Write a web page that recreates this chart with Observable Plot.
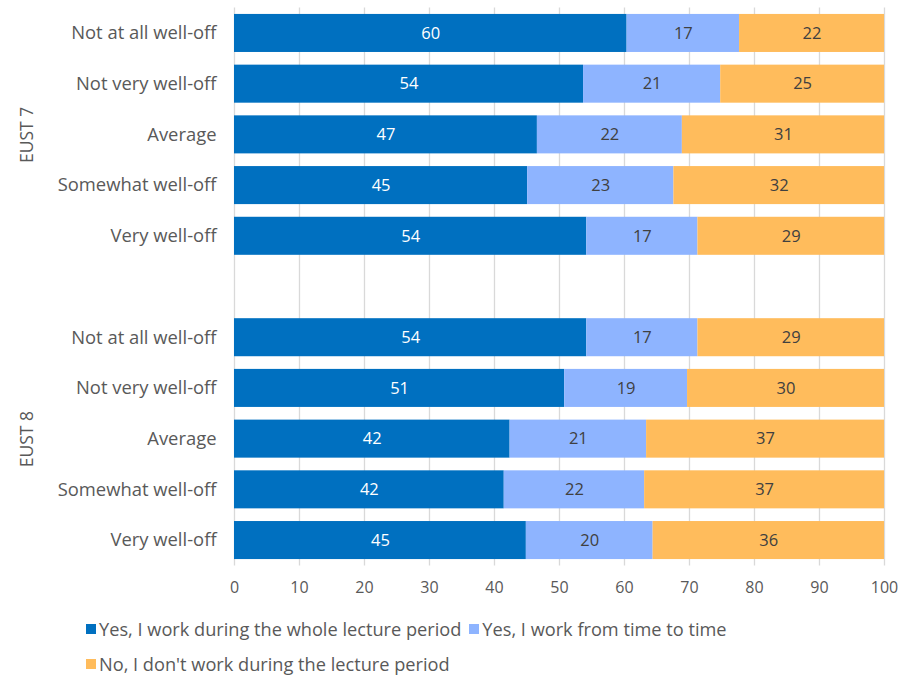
<!DOCTYPE html>
<html>
<head>
<meta charset="utf-8">
<script src="https://cdn.jsdelivr.net/npm/d3@7"></script>
<script src="https://cdn.jsdelivr.net/npm/@observablehq/plot@0.6"></script>
<style>
  body { margin: 0; background: #fff; font-family: "Open Sans", sans-serif; }
  #legend { display: flex; flex-wrap: wrap; width: 760px; padding-left: 86px; margin-top: 18px; row-gap: 13px; column-gap: 8px; font-size: 18.2px; color: #595959; line-height: 22px; }
  .item { display: flex; align-items: center; }
  .sw { width: 10px; height: 10px; margin-right: 3px; }
</style>
</head>
<body>
<div id="chart"></div>
<div id="legend"></div>
<script>
const groups = ["EUST 7", "EUST 8"];
const levels = ["Not at all well-off", "Not very well-off", "Average", "Somewhat well-off", "Very well-off"];
const answers = ["Yes, I work during the whole lecture period", "Yes, I work from time to time", "No, I don't work during the lecture period"];
const colors = ["#0070C0", "#8EB4FF", "#FFBC5C"];
// values per group, per level, in answer order
const eust7Whole = [60.4, 53.7, 46.6, 45.1, 54.2];
const eust7Time  = [17.3, 21.1, 22.3, 22.5, 17.1];
const eust7No    = [22.3, 25.2, 31.1, 32.4, 28.7];
const eust8Whole = [54.2, 50.8, 42.4, 41.5, 44.9];
const eust8Time  = [17.1, 18.9, 21.0, 21.6, 19.5];
const eust8No    = [28.7, 30.3, 36.6, 36.9, 35.6];
const xTicks = [0, 10, 20, 30, 40, 50, 60, 70, 80, 90, 100];

const series = {"EUST 7": [eust7Whole, eust7Time, eust7No], "EUST 8": [eust8Whole, eust8Time, eust8No]};
const data = [];
for (const g of groups) {
  levels.forEach((lv, i) => {
    answers.forEach((a, j) => {
      data.push({key: g + "|" + lv, answer: a, order: j, value: series[g][j][i]});
    });
  });
}
const domain = [...levels.map(l => "EUST 7|" + l), "gap", ...levels.map(l => "EUST 8|" + l)];
const groupLabels = groups.map(g => ({key: g + "|Average", label: g}));

const chart = Plot.plot({
  width: 915,
  height: 600,
  marginLeft: 234,
  marginRight: 31,
  marginTop: 7.6,
  marginBottom: 34.6,
  style: {fontFamily: "'Open Sans', sans-serif", fontSize: "18.4px", color: "#595959", background: "#fff"},
  x: {domain: [0, 100], ticks: xTicks, tickSize: 0, tickPadding: 16, label: null, fontSize: 16},
  y: {domain, paddingInner: 0.25, paddingOuter: 0.125, round: false, tickSize: 0, tickPadding: 18, label: null,
      tickFormat: d => d === "gap" ? "" : d.split("|")[1]},
  color: {domain: answers, range: colors},
  marks: [
    Plot.ruleX(xTicks, {stroke: "#D9D9D9", strokeWidth: 1.3}),
    Plot.barX(data, Plot.stackX({x: "value", y: "key", fill: "answer", order: "order"})),
    Plot.text(data, Plot.stackX({x: "value", y: "key", z: "answer", order: "order",
      text: d => Math.round(d.value).toString(),
      fill: d => d.order === 0 ? "#ffffff" : "#404040", fontSize: 16.5})),
    Plot.text(groupLabels, {y: "key", text: "label", frameAnchor: "left", dx: -207, rotate: -90, textAnchor: "middle", fill: "#595959", fontSize: 17.5})
  ]
});
chart.querySelectorAll("g[aria-label='x-axis tick label'] text").forEach(t => t.setAttribute("font-size", "16"));
document.getElementById("chart").appendChild(chart);

const legend = document.getElementById("legend");
answers.forEach((a, i) => {
  const it = document.createElement("div");
  it.className = "item";
  const sw = document.createElement("span");
  sw.className = "sw";
  sw.style.background = colors[i];
  const tx = document.createElement("span");
  tx.textContent = a;
  it.appendChild(sw);
  it.appendChild(tx);
  legend.appendChild(it);
});
</script>
</body>
</html>
